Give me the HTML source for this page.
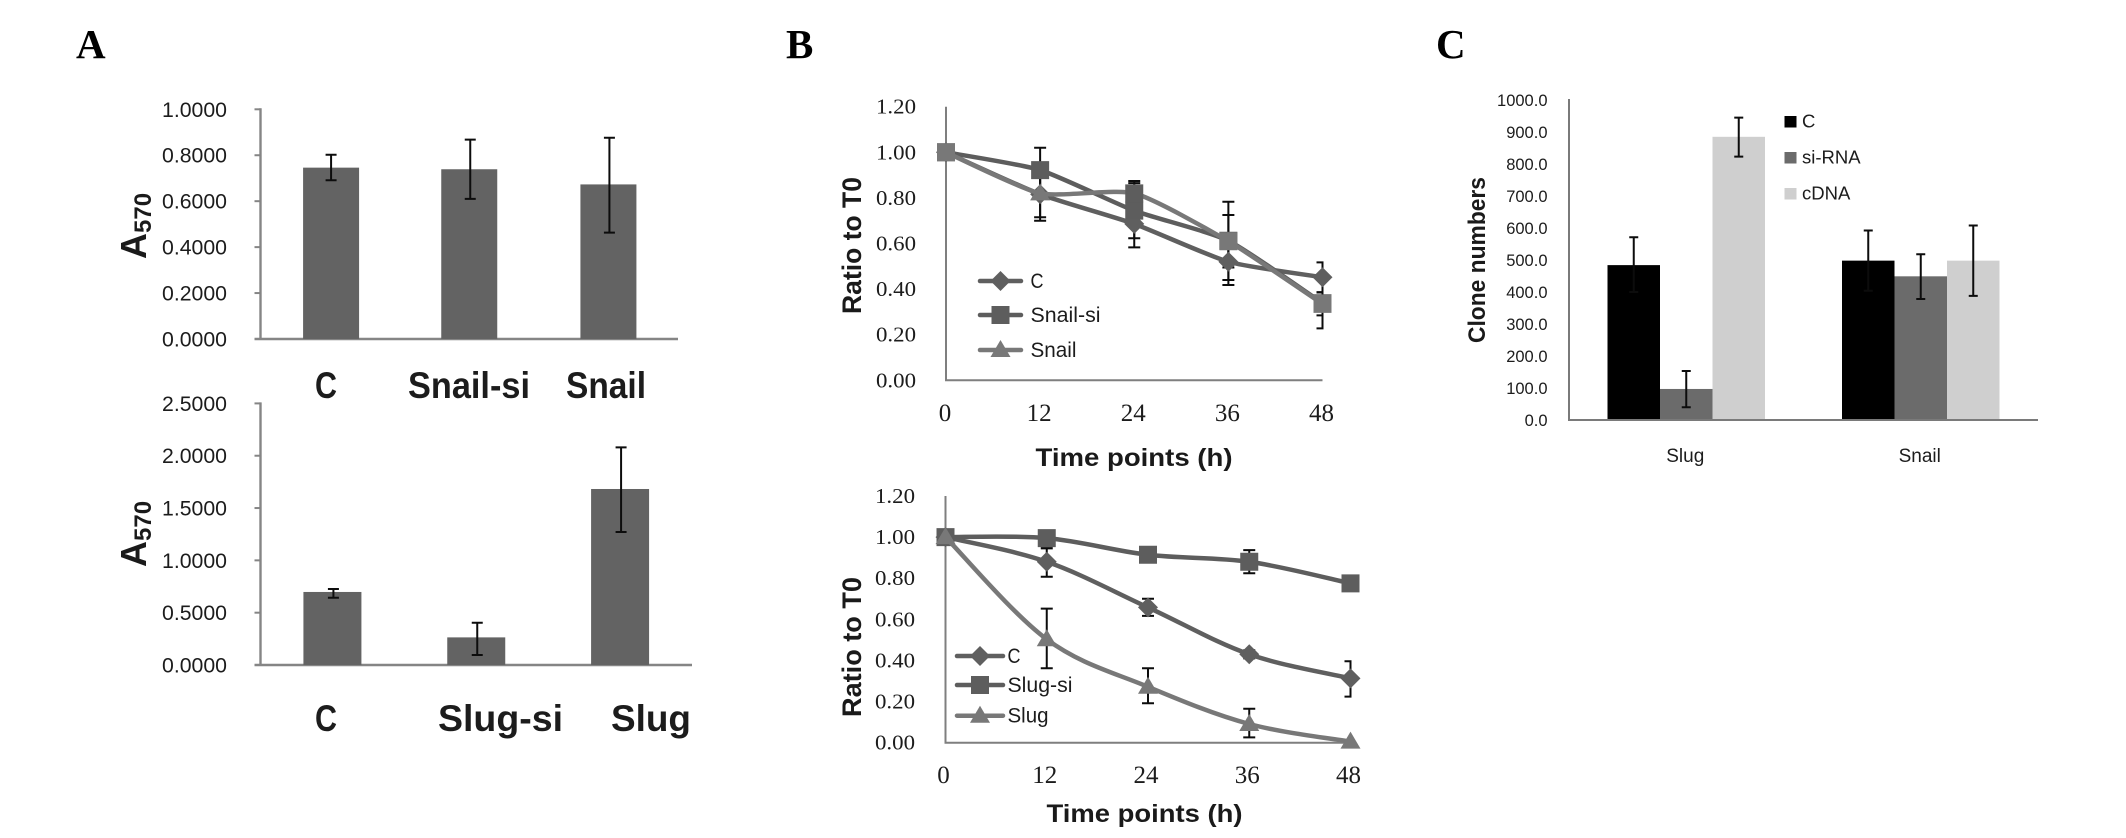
<!DOCTYPE html>
<html lang="en">
<head>
<meta charset="utf-8">
<title>Panels A, B and C: A570, ratio to T0 and clone numbers</title>
<style>
  html, body { margin: 0; padding: 0; background: #ffffff; }
  #figure { display: block; width: 2126px; height: 838px; }
  text { font-family: "Liberation Sans", sans-serif; fill: #1c1c1c; }
  .letter { font-family: "Liberation Serif", serif; font-weight: bold; font-size: 41px; fill: #000; }
  .title { font-weight: bold; fill: #1a1a1a; }
</style>
</head>
<body>
<svg id="figure" xmlns="http://www.w3.org/2000/svg" width="2126" height="838" viewBox="0 0 2126 838">
  <rect x="0" y="0" width="2126" height="838" fill="#ffffff"/>
  <text class="letter" x="76" y="58">A</text>
  <text class="letter" x="786" y="58">B</text>
  <text class="letter" x="1436" y="58">C</text>

  <text class="title" transform="translate(146,259) rotate(-90)" font-size="36">A<tspan font-size="24" dy="5" dx="0">570</tspan></text>
  <text class="title" transform="translate(146,567) rotate(-90)" font-size="36">A<tspan font-size="24" dy="5" dx="0">570</tspan></text>

  <text class="title" transform="translate(861,314) rotate(-90)" font-size="27" textLength="137" lengthAdjust="spacingAndGlyphs">Ratio to T0</text>
  <text class="title" x="1035.5" y="466" font-size="25" textLength="197" lengthAdjust="spacingAndGlyphs">Time points (h)</text>
  <text class="title" transform="translate(861,717) rotate(-90)" font-size="27" textLength="140" lengthAdjust="spacingAndGlyphs">Ratio to T0</text>
  <text class="title" x="1046.5" y="822" font-size="25" textLength="196" lengthAdjust="spacingAndGlyphs">Time points (h)</text>

  <text class="title" transform="translate(1485,343) rotate(-90)" font-size="24" textLength="166" lengthAdjust="spacingAndGlyphs">Clone numbers</text>
</svg>
<script>
// Panel A, top chart
const snailCategories = ['C', 'Snail-si', 'Snail'];
const snailA570 = [0.746, 0.739, 0.673];
const snailA570High = [0.802, 0.868, 0.876];
const snailA570Low = [0.691, 0.61, 0.463];
const snailA570Ticks = ['0.0000', '0.2000', '0.4000', '0.6000', '0.8000', '1.0000'];

// Panel A, bottom chart
const slugCategories = ['C', 'Slug-si', 'Slug'];
const slugA570 = [0.698, 0.264, 1.682];
const slugA570High = [0.726, 0.404, 2.08];
const slugA570Low = [0.643, 0.095, 1.271];
const slugA570Ticks = ['0.0000', '0.5000', '1.0000', '1.5000', '2.0000', '2.5000'];

// Panel B, shared axes
const timePoints = [0, 12, 24, 36, 48];
const ratioTicks = ['0.00', '0.20', '0.40', '0.60', '0.80', '1.00', '1.20'];

// Panel B, top chart
const snailRatioC = [1, 0.816, 0.686, 0.52, 0.452];
const snailRatioCHigh = [1, 0.92, 0.79, 0.62, 0.517];
const snailRatioCLow = [1, 0.715, 0.583, 0.418, 0.387];
const snailRatioSi = [1, 0.922, 0.744, 0.612, 0.338];
const snailRatioSiHigh = [1, 1.02, 0.865, 0.783, 0.448];
const snailRatioSiLow = [1, 0.82, 0.623, 0.44, 0.228];
const snailRatioSnail = [1, 0.82, 0.82, 0.61, 0.335];
const snailRatioSnailHigh = [1, 0.94, 0.874, 0.725, 0.385];
const snailRatioSnailLow = [1, 0.7, 0.77, 0.495, 0.285];

// Panel B, bottom chart
const slugRatioC = [1, 0.88, 0.658, 0.43, 0.313];
const slugRatioCHigh = [1, 0.945, 0.7, 0.45, 0.396];
const slugRatioCLow = [1, 0.807, 0.617, 0.41, 0.224];
const slugRatioSi = [1, 0.995, 0.914, 0.88, 0.775];
const slugRatioSiHigh = [1, 1.03, 0.935, 0.937, 0.785];
const slugRatioSiLow = [1, 0.955, 0.893, 0.824, 0.765];
const slugRatioSlug = [1, 0.503, 0.272, 0.091, 0.005];
const slugRatioSlugHigh = [1, 0.652, 0.362, 0.165, 0.005];
const slugRatioSlugLow = [1, 0.362, 0.192, 0.026, 0.005];

// Panel C
const cloneCategories = ['Slug', 'Snail'];
const cloneSeriesNames = ['C', 'si-RNA', 'cDNA'];
const cloneC = [484, 498];
const cloneCHigh = [571, 592];
const cloneCLow = [400, 404];
const cloneSi = [97, 449];
const cloneSiHigh = [153, 518];
const cloneSiLow = [40, 378];
const cloneCdna = [885, 498];
const cloneCdnaHigh = [945, 608];
const cloneCdnaLow = [823, 388];
const cloneTicks = ['0.0', '100.0', '200.0', '300.0', '400.0', '500.0', '600.0', '700.0', '800.0', '900.0', '1000.0'];

const svg = document.getElementById('figure');
const NS = 'http://www.w3.org/2000/svg';

function make(tag, props) {
  const el = document.createElementNS(NS, tag);
  for (const k in props) el.setAttribute(k, props[k]);
  svg.appendChild(el);
  return el;
}
function makeText(str, x, y, o) {
  const el = make('text', { x: x, y: y, 'font-size': o.size, 'text-anchor': o.anchor || 'start' });
  if (o.family) el.style.fontFamily = o.family;
  if (o.weight) el.setAttribute('font-weight', o.weight);
  if (o.len) { el.setAttribute('textLength', o.len); el.setAttribute('lengthAdjust', 'spacingAndGlyphs'); }
  el.textContent = str;
  return el;
}
function linear(d0, d1, r0, r1) {
  return function (v) { return r0 + (v - d0) / (d1 - d0) * (r1 - r0); };
}
function errorBar(x, yHigh, yLow, capHalf, maxX, prefix, i) {
  const right = Math.min(x + capHalf, maxX);
  const d = 'M' + x + ' ' + yHigh + 'V' + yLow +
    'M' + (x - capHalf) + ' ' + yHigh + 'H' + right +
    'M' + (x - capHalf) + ' ' + yLow + 'H' + right;
  const el = make('path', { d: d, stroke: '#0c0c0c', 'stroke-width': 2, fill: 'none' });
  
  
}

function drawBarPanel(c) {
  const y = linear(0, c.max, c.y0, c.yTop);
  const band = (c.x1 - c.x0) / c.categories.length;
  const axis = make('path', { d: 'M' + c.x0 + ' ' + (c.yTop - 1) + 'V' + c.y0 + 'M' + (c.x0 - 6) + ' ' + c.y0 + 'H' + c.x1, stroke: '#858585', 'stroke-width': 2.4, fill: 'none' });
  
  
  c.ticks.forEach(function (t) {
    const v = parseFloat(t);
    const tick = make('line', { x1: c.x0 - 6, x2: c.x0, y1: y(v), y2: y(v), stroke: '#858585', 'stroke-width': 2 });
    
    
    const label = makeText(t, 227, y(v) + 7.5, { size: 21, anchor: 'end', len: 65 });
    
    
  });
  c.categories.forEach(function (cat, i) {
    const cx = c.x0 + band * (i + 0.5) + c.shift[i];
    const bar = make('rect', { x: cx - c.barW / 2, y: y(c.values[i]), width: c.barW, height: c.y0 - y(c.values[i]), fill: '#636363' });
    
    
    errorBar(cx + c.errShift[i], y(c.high[i]), y(c.low[i]), 5.5, 9999, c.name + '-' + cat, i);
    const lab = makeText(cat, c.labelX[i], c.labelY, { size: 37, weight: 'bold', len: c.labelW[i] });
    
    
  });
}

function smoothPath(pts, k) {
  let d = 'M' + pts[0][0] + ' ' + pts[0][1];
  for (let i = 0; i < pts.length - 1; i++) {
    const p0 = pts[Math.max(i - 1, 0)], p1 = pts[i], p2 = pts[i + 1], p3 = pts[Math.min(i + 2, pts.length - 1)];
    d += 'C' + (p1[0] + (p2[0] - p0[0]) / k) + ' ' + (p1[1] + (p2[1] - p0[1]) / k) + ' ' +
      (p2[0] - (p3[0] - p1[0]) / k) + ' ' + (p2[1] - (p3[1] - p1[1]) / k) + ' ' + p2[0] + ' ' + p2[1];
  }
  return d;
}
function markerPath(shape, x, y) {
  if (shape === 'diamond') return 'M' + x + ' ' + (y - 10) + 'L' + (x + 10) + ' ' + y + 'L' + x + ' ' + (y + 10) + 'L' + (x - 10) + ' ' + y + 'Z';
  if (shape === 'square') return 'M' + (x - 9) + ' ' + (y - 9) + 'h18v18h-18Z';
  return 'M' + x + ' ' + (y - 10) + 'L' + (x + 10) + ' ' + (y + 7) + 'L' + (x - 10) + ' ' + (y + 7) + 'Z';
}

function drawLinePanel(c) {
  const x = linear(0, 48, c.x0, c.x1);
  const y = linear(0, 1.2, c.y0, c.yTop);
  const axis = make('path', { d: 'M' + c.x0 + ' ' + c.yTop + 'V' + c.y0 + 'H' + c.x1, stroke: '#7f7f7f', 'stroke-width': 2, fill: 'none' });
  
  
  ratioTicks.forEach(function (t) {
    const label = makeText(t, c.tickRight, y(parseFloat(t)) + 7, { size: 21, anchor: 'end', len: 40, family: '"Liberation Serif", serif' });
    
    
  });
  timePoints.forEach(function (t) {
    const label = makeText(String(t), x(t) + c.xLabelShift, c.xLabelY, { size: 25, anchor: 'middle', family: '"Liberation Serif", serif' });
    
    
  });
  c.series.forEach(function (s) {
    timePoints.forEach(function (t, i) {
      if (s.high[i] !== s.low[i]) errorBar(x(t), y(s.high[i]), y(s.low[i]), 6, c.x1 + 1, c.name + '-' + s.label, i);
    });
  });
  c.series.forEach(function (s, si) {
    const pts = timePoints.map(function (t, i) { return [x(t), y(s.values[i])]; });
    const line = make('path', { d: smoothPath(pts, c.smooth), stroke: s.color, 'stroke-width': 4.5, fill: 'none', 'stroke-linecap': 'round' });
    
    
    pts.forEach(function (p, i) {
      const mk = make('path', { d: markerPath(s.shapes[i], p[0], p[1]), fill: s.markerFills ? s.markerFills[i] : s.color });
      
      
    });
    const ly = c.legendY[si];
    const legLine = make('line', { x1: c.legendX0, x2: c.legendX1, y1: ly, y2: ly, stroke: s.color, 'stroke-width': 4.5, 'stroke-linecap': 'round' });
    
    
    const legMk = make('path', { d: markerPath(s.legendShape, (c.legendX0 + c.legendX1) / 2, ly), fill: s.color });
    
    
    const legText = makeText(s.label, c.legendTextX, ly + 7, { size: 21, len: s.legendW });
    
    
  });
}

function drawClonePanel() {
  const x0 = 1569, x1 = 2038, y0 = 420, yTop = 100, barW = 52.5;
  const y = linear(0, 1000, y0, yTop);
  const band = (x1 - x0) / cloneCategories.length;
  const values = [cloneC, cloneSi, cloneCdna];
  const highs = [cloneCHigh, cloneSiHigh, cloneCdnaHigh];
  const lows = [cloneCLow, cloneSiLow, cloneCdnaLow];
  const fills = ['#000000', '#6b6b6b', '#cfcfcf'];
  cloneCategories.forEach(function (cat, g) {
    const cx = x0 + band * (g + 0.5);
    cloneSeriesNames.forEach(function (name, s) {
      const bx = cx - barW * 1.5 + barW * s;
      const bar = make('rect', { x: bx, y: y(values[s][g]), width: barW, height: y0 - y(values[s][g]), fill: fills[s] });
      
      
    });
    const lab = makeText(cat, cx - 1, 462, { size: 19, anchor: 'middle' });
    
    
  });
  cloneCategories.forEach(function (cat, g) {
    const cx = x0 + band * (g + 0.5);
    cloneSeriesNames.forEach(function (name, s) {
      const bx = cx - barW * 1.5 + barW * s + barW / 2;
      errorBar(bx, y(highs[s][g]), y(lows[s][g]), 4.5, 9999, 'clone-' + cat + '-' + name, s);
    });
  });
  const axis = make('path', { d: 'M' + x0 + ' ' + 99 + 'V' + y0 + 'H' + x1, stroke: '#7a7a7a', 'stroke-width': 2, fill: 'none' });
  
  
  cloneTicks.forEach(function (t) {
    const label = makeText(t, 1547.5, y(parseFloat(t)) + 6, { size: 16.5, anchor: 'end' });
    
    
  });
  cloneSeriesNames.forEach(function (name, s) {
    const swatch = make('rect', { x: 1784.5, y: 116 + s * 36, width: 12, height: 11.5, fill: fills[s] });
    
    
    const lab = makeText(name, 1802, 127.5 + s * 36, { size: 18.5 });
    
    
  });
}

drawBarPanel({
  name: 'snail-a570', categories: snailCategories, values: snailA570, high: snailA570High, low: snailA570Low,
  ticks: snailA570Ticks, max: 1, x0: 260.5, x1: 678, y0: 339, yTop: 109.3, barW: 56,
  shift: [1, 0, 0], errShift: [0, 1, 1], labelX: [315, 408, 566], labelW: [22, 122, 80], labelY: 398
});
drawBarPanel({
  name: 'slug-a570', categories: slugCategories, values: slugA570, high: slugA570High, low: slugA570Low,
  ticks: slugA570Ticks, max: 2.5, x0: 260.5, x1: 692, y0: 665, yTop: 403.4, barW: 58,
  shift: [0, 0, 0], errShift: [1, 1, 1], labelX: [315, 438, 611], labelW: [22, 125, 80], labelY: 731
});
drawLinePanel({
  name: 'snail-ratio', x0: 946, x1: 1322.5, y0: 380.3, yTop: 106.7, tickRight: 916, xLabelY: 421, xLabelShift: -1, smooth: 10,
  legendY: [281, 315, 350], legendX0: 980, legendX1: 1021, legendTextX: 1030.5,
  series: [
    { label: 'C', values: snailRatioC, high: snailRatioCHigh, low: snailRatioCLow, color: '#5f5f5f', shapes: ['diamond', 'diamond', 'diamond', 'diamond', 'diamond'], legendShape: 'diamond', legendW: 13 },
    { label: 'Snail-si', values: snailRatioSi, high: snailRatioSiHigh, low: snailRatioSiLow, color: '#5d5d5d', shapes: ['square', 'square', 'square', 'square', 'square'], legendShape: 'square', legendW: 70 },
    { label: 'Snail', values: snailRatioSnail, high: snailRatioSnailHigh, low: snailRatioSnailLow, color: '#787878', shapes: ['square', 'triangle', 'square', 'square', 'square'], markerFills: ['#787878', '#787878', '#5d5d5d', '#787878', '#787878'], legendShape: 'triangle', legendW: 46 }
  ]
});
drawLinePanel({
  name: 'slug-ratio', x0: 945.5, x1: 1350.5, y0: 742.7, yTop: 496, tickRight: 915, xLabelY: 783, xLabelShift: -2, smooth: 6,
  legendY: [656, 685, 715.7], legendX0: 957, legendX1: 1003, legendTextX: 1007.5,
  series: [
    { label: 'C', values: slugRatioC, high: slugRatioCHigh, low: slugRatioCLow, color: '#5f5f5f', shapes: ['diamond', 'diamond', 'diamond', 'diamond', 'diamond'], legendShape: 'diamond', legendW: 13 },
    { label: 'Slug-si', values: slugRatioSi, high: slugRatioSiHigh, low: slugRatioSiLow, color: '#5d5d5d', shapes: ['square', 'square', 'square', 'square', 'square'], legendShape: 'square', legendW: 65 },
    { label: 'Slug', values: slugRatioSlug, high: slugRatioSlugHigh, low: slugRatioSlugLow, color: '#787878', shapes: ['triangle', 'triangle', 'triangle', 'triangle', 'triangle'], legendShape: 'triangle', legendW: 41 }
  ]
});
drawClonePanel();
</script>
</body>
</html>
